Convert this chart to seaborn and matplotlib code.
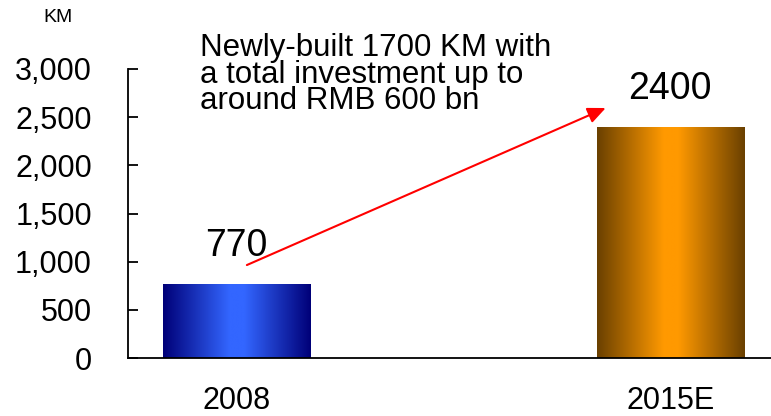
import numpy as np
import pandas as pd
import matplotlib
matplotlib.use("Agg")
import matplotlib.pyplot as plt
from matplotlib.colors import LinearSegmentedColormap
from matplotlib.ticker import FuncFormatter
import seaborn as sns

# data
years = ["2008", "2015E"]
km = [770, 2400]
bar_labels = ["770", "2400"]
# gradient colours per bar: edge -> centre
edge_colors = ["#000078", "#6a4000"]
centre_colors = ["#3366ff", "#ff9900"]
note = "Newly-built 1700 KM with\na total investment up to\naround RMB 600 bn"

sns.set_theme(style="white")
plt.rcParams['font.family'] = ['Liberation Sans', 'DejaVu Sans']
plt.rcParams['text.color'] = 'black'
plt.rcParams['xtick.color'] = 'black'
plt.rcParams['ytick.color'] = 'black'

df = pd.DataFrame({"year": years, "km": km})

fig = plt.figure(figsize=(7.71, 4.16), dpi=100)
ax = fig.add_axes([128 / 771, 58 / 416, 1 - 128 / 771, 289 / 416])

sns.barplot(data=df, x="year", y="km", width=0.34, color="white",
            edgecolor="none", ax=ax)

# horizontal gradient fill clipped to each bar
for patch, c_edge, c_mid in zip(ax.patches, edge_colors, centre_colors):
    x0 = patch.get_x()
    w = patch.get_width()
    h = patch.get_height()
    cmap = LinearSegmentedColormap.from_list(
        "g", [(0, c_edge), (0.45, c_mid), (0.55, c_mid), (1, c_edge)])
    grad = np.linspace(0, 1, 256).reshape(1, -1)
    im = ax.imshow(grad, cmap=cmap, extent=[x0, x0 + w, 0, h],
                   aspect="auto", zorder=2)
    im.set_clip_path(patch)

ax.set_xlim(-0.25, 1.232)
ax.set_ylim(0, 3000)
ax.set_xlabel("")
ax.set_ylabel("")

ax.yaxis.set_major_formatter(FuncFormatter(lambda v, p: f"{v:,.0f}"))
ax.set_yticks(range(0, 3001, 500))
ax.tick_params(axis="y", direction="in", length=7, width=1.3, pad=26,
               labelsize=22, colors="black", left=True)
ax.tick_params(axis="x", length=0, pad=20, labelsize=22, colors="black")

for s in ["top", "right"]:
    ax.spines[s].set_visible(False)
for s in ["left", "bottom"]:
    ax.spines[s].set_color("black")
    ax.spines[s].set_linewidth(1.3)

# value labels above bars
for i, (v, lab) in enumerate(zip(km, bar_labels)):
    ax.text(i, v + 205, lab, ha="center", va="bottom", fontsize=27,
            color="black")

# growth arrow
ax.annotate("", xy=(0.851, 2595), xytext=(0.024, 965),
            arrowprops=dict(arrowstyle="-|>,head_length=0.9,head_width=0.4",
                            color="red", lw=1.5, shrinkA=0, shrinkB=0))

ax.text(-0.084, 3370, note, ha="left", va="top", fontsize=22.5,
        linespacing=0.85, clip_on=False, color="black")

fig.text(43 / 771, 1 - 9 / 416, "KM", ha="left", va="top", fontsize=14,
         color="black")

fig.savefig("out.png", dpi=100)
